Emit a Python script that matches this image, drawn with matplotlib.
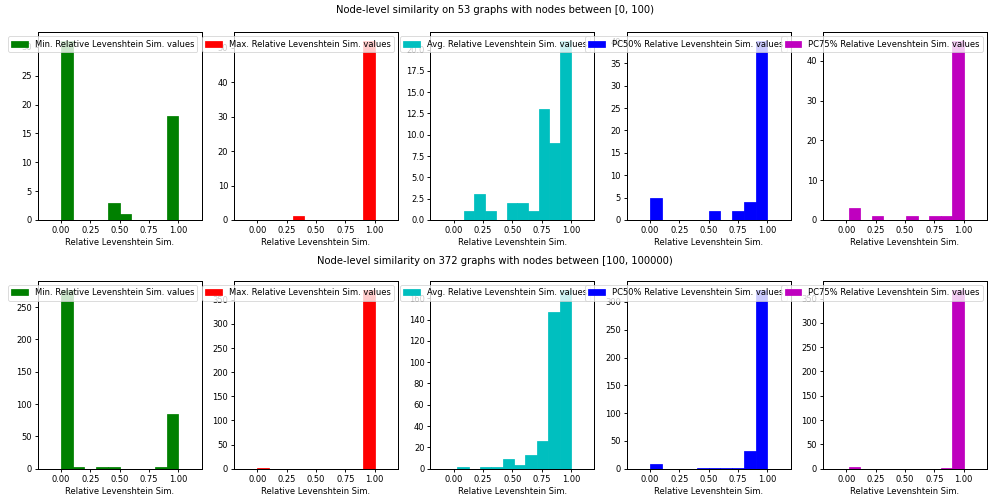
import matplotlib
matplotlib.use("Agg")
import matplotlib.pyplot as plt
import numpy as np

# Histogram counts per statistic (10 bins between the lowest and highest value)
stat_names = ["Min.", "Max.", "Avg.", "PC50%", "PC75%"]
stat_colors = ["g", "r", "c", "b", "m"]

small_titles = "Node-level similarity on 53 graphs with nodes between [0, 100)"
small_ranges = [(0.0, 1.0), (0.0, 1.0), (0.085, 1.0), (0.0, 1.0), (0.02, 1.0)]
small_min = [31, 0, 0, 0, 3, 1, 0, 0, 0, 18]
small_max = [0, 0, 0, 1, 0, 0, 0, 0, 0, 52]
small_avg = [1, 3, 1, 0, 2, 2, 1, 13, 9, 21]
small_pc50 = [5, 0, 0, 0, 0, 2, 0, 2, 4, 40]
small_pc75 = [3, 0, 1, 0, 0, 1, 0, 1, 1, 45]

large_titles = "Node-level similarity on 372 graphs with nodes between [100, 100000)"
large_ranges = [(0.0, 1.0), (0.0, 1.0), (0.03, 1.0), (0.0, 1.0), (0.02, 1.0)]
large_min = [277, 2, 0, 2, 2, 0, 0, 0, 2, 85]
large_max = [1, 0, 0, 0, 0, 0, 0, 0, 0, 371]
large_avg = [2, 0, 2, 2, 9, 3, 13, 26, 147, 168]
large_pc50 = [9, 0, 0, 0, 2, 2, 2, 2, 31, 322]
large_pc75 = [3, 0, 0, 0, 0, 0, 0, 0, 1, 368]

groups = [
    (small_titles, small_ranges, [small_min, small_max, small_avg, small_pc50, small_pc75]),
    (large_titles, large_ranges, [large_min, large_max, large_avg, large_pc50, large_pc75]),
]

plt.rcParams["axes.linewidth"] = 1.2
plt.rcParams["xtick.major.width"] = 1.1
plt.rcParams["ytick.major.width"] = 1.1


def plot_stat_hist(ax, counts, value_range, color, label):
    edges = np.linspace(value_range[0], value_range[1], len(counts) + 1)
    # thin edge keeps empty bins visible as a line on the baseline
    ax.hist(edges[:-1], bins=edges, weights=counts, color=color, label=label,
            edgecolor=color, linewidth=0.9, zorder=3)
    ax.set_xlim(-0.2, 1.2)
    ax.set_xticks([0.0, 0.25, 0.5, 0.75, 1.0])
    ax.set_xlabel("Relative Levenshtein Sim.")
    ax.legend(loc="upper right")


fig = plt.figure(figsize=(16.5, 8.35), dpi=60)
subfigs = fig.subfigures(2, 1)
adjust = [dict(top=0.872, bottom=0.122), dict(top=0.879, bottom=0.129)]

for subfig, (title, ranges, all_counts), adj in zip(subfigs, groups, adjust):
    subfig.suptitle(title)
    axes = subfig.subplots(1, 5)
    subfig.subplots_adjust(left=0.038, right=0.997, wspace=0.197, **adj)
    for ax, counts, rng, name, color in zip(axes, all_counts, ranges, stat_names, stat_colors):
        plot_stat_hist(ax, counts, rng, color, f"{name} Relative Levenshtein Sim. values")

fig.savefig("out.png", dpi=60)
